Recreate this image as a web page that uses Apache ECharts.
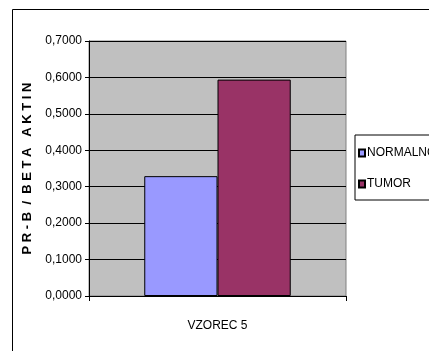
<!DOCTYPE html>
<html>
<head>
<meta charset="utf-8">
<script src="https://cdn.jsdelivr.net/npm/echarts@6/dist/echarts.min.js"></script>
<style>
html,body{margin:0;padding:0;background:#fff;}
#chart{width:429px;height:351px;}
</style>
</head>
<body>
<div id="chart"></div>
<script>
// Chart data
var categories = ['VZOREC 5'];
var seriesNames = ['NORMALNO', 'TUMOR'];
var normalValues = [0.329];
var tumorValues = [0.594];
var yTicks = { min: 0, max: 0.7, interval: 0.1 };

var FONT = '"Liberation Sans Narrow", "Liberation Sans", Arial, sans-serif';

var chart = echarts.init(document.getElementById('chart'), null, { renderer: 'canvas' });

chart.setOption({
  animation: false,
  backgroundColor: '#ffffff',
  grid: { left: 89, top: 41, width: 257, height: 255, show: true,
          backgroundColor: '#c0c0c0', borderColor: '#808080', borderWidth: 1 },
  legend: {
    orient: 'vertical',
    left: 355, top: 135,
    padding: [12, 40, 10, 3],
    itemGap: 19,
    itemWidth: 6, itemHeight: 7,
    borderColor: '#000', borderWidth: 1,
    textStyle: { fontFamily: FONT, fontSize: 12, color: '#000', padding: [0, 0, 0, -3] },
    data: seriesNames.map(function (n) { return { name: n, icon: 'rect' }; })
  },
  xAxis: {
    type: 'category',
    data: categories,
    axisLine: { lineStyle: { color: '#000', width: 1 } },
    axisTick: { show: true, alignWithLabel: false, length: 5, lineStyle: { color: '#000' } },
    axisLabel: { fontFamily: FONT, fontSize: 12, color: '#000', margin: 24 },
    splitLine: { show: false }
  },
  yAxis: {
    type: 'value',
    min: yTicks.min, max: yTicks.max, interval: yTicks.interval,
    name: 'P R - B  /  B E T A   A K T I N',
    nameLocation: 'middle',
    nameGap: 52,
    nameTextStyle: { fontFamily: '"Liberation Sans", Arial, sans-serif', fontSize: 13, fontWeight: 'bold', color: '#000' },
    axisLine: { show: true, lineStyle: { color: '#000', width: 1 } },
    axisTick: { show: true, length: 4, lineStyle: { color: '#000' } },
    axisLabel: {
      fontFamily: FONT, fontSize: 12, color: '#000', margin: 7,
      formatter: function (v) { return v.toFixed(4).replace('.', ','); }
    },
    splitLine: { show: true, lineStyle: { color: '#000', width: 1 } }
  },
  series: [
    { name: seriesNames[0], type: 'bar', data: normalValues,
      barCategoryGap: '43%', barGap: '0%',
      itemStyle: { color: '#9999ff', borderColor: '#000', borderWidth: 1 } },
    { name: seriesNames[1], type: 'bar', data: tumorValues,
      barCategoryGap: '43%', barGap: '0%',
      itemStyle: { color: '#993366', borderColor: '#000', borderWidth: 1 } }
  ],
  graphic: [
    { type: 'rect', shape: { x: 12.5, y: 9.5, width: 460, height: 400 },
      style: { fill: null, stroke: '#000', lineWidth: 1 }, silent: true, z: -1 }
  ]
});
</script>
</body>
</html>
